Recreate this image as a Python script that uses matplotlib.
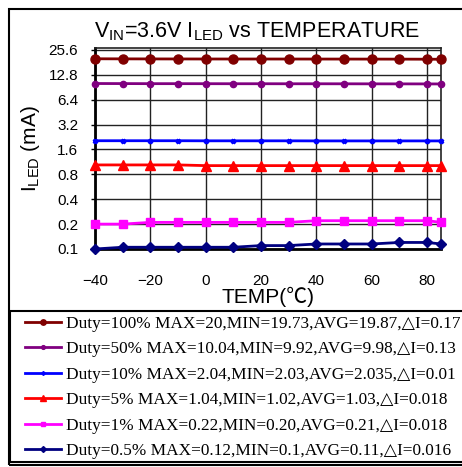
import matplotlib
matplotlib.use("Agg")
import matplotlib.pyplot as plt
from matplotlib.patches import Rectangle
from matplotlib.ticker import FixedLocator, FixedFormatter, NullLocator

temps = [-40, -30, -20, -10, 0, 10, 20, 30, 40, 50, 60, 70, 80, 85]
duty100 = [20.0, 19.95, 19.92, 19.9, 19.88, 19.87, 19.87, 19.86, 19.85, 19.84, 19.82, 19.8, 19.76, 19.73]
duty50 = [10.04, 10.02, 10.0, 10.0, 9.99, 9.98, 9.98, 9.97, 9.97, 9.96, 9.95, 9.94, 9.93, 9.92]
duty10 = [2.04, 2.04, 2.04, 2.04, 2.035, 2.035, 2.035, 2.035, 2.03, 2.03, 2.03, 2.03, 2.03, 2.03]
duty5 = [1.04, 1.04, 1.04, 1.04, 1.02, 1.02, 1.02, 1.02, 1.02, 1.02, 1.02, 1.02, 1.02, 1.02]
duty1 = [0.20, 0.20, 0.21, 0.21, 0.21, 0.21, 0.21, 0.21, 0.22, 0.22, 0.22, 0.22, 0.22, 0.21]
duty05 = [0.10, 0.105, 0.105, 0.105, 0.105, 0.105, 0.11, 0.11, 0.115, 0.115, 0.115, 0.12, 0.12, 0.115]

labels = [
    "Duty=100% MAX=20,MIN=19.73,AVG=19.87,\u25b3I=0.17",
    "Duty=50% MAX=10.04,MIN=9.92,AVG=9.98,\u25b3I=0.13",
    "Duty=10% MAX=2.04,MIN=2.03,AVG=2.035,\u25b3I=0.01",
    "Duty=5% MAX=1.04,MIN=1.02,AVG=1.03,\u25b3I=0.018",
    "Duty=1% MAX=0.22,MIN=0.20,AVG=0.21,\u25b3I=0.018",
    "Duty=0.5% MAX=0.12,MIN=0.1,AVG=0.11,\u25b3I=0.016",
]
yticks = [0.1, 0.2, 0.4, 0.8, 1.6, 3.2, 6.4, 12.8, 25.6]
ytick_labels = ["0.1", "0.2", "0.4", "0.8", "1.6", "3.2", "6.4", "12.8", "25.6"]
xticks = [-40, -20, 0, 20, 40, 60, 80]

W, H = 462, 467
fig = plt.figure(figsize=(W / 100, H / 100), dpi=100)
sans = ["Liberation Sans", "DejaVu Sans"]

ax = fig.add_axes([95 / W, 1 - 249 / H, (441 - 95) / W, (249 - 48) / H])

series = [
    (duty100, "#800000", "o", 6.5),
    (duty50, "#800080", "o", 4.5),
    (duty10, "#0000FF", "x", 3.5),
    (duty5, "#FF0000", "^", 6.5),
    (duty1, "#FF00FF", "s", 6.0),
    (duty05, "#000080", "D", 5.0),
]
handles = []
for (vals, col, mk, ms), lab in zip(series, labels):
    mew = 2 if mk == "x" else 1
    h, = ax.plot(temps, vals, color=col, marker=mk, markersize=ms, lw=2,
                 markeredgecolor=col, markerfacecolor=col, markeredgewidth=mew,
                 clip_on=False, zorder=3, label=lab)
    handles.append(h)

ax.set_yscale("log", base=2)
ax.set_ylim(0.1, 27)
ax.set_xlim(-40, 85)
ax.yaxis.set_major_locator(FixedLocator(yticks))
ax.yaxis.set_major_formatter(FixedFormatter(ytick_labels))
ax.yaxis.set_minor_locator(NullLocator())
ax.set_xticks(xticks)
ax.grid(True, color="#222222", lw=1)
ax.set_axisbelow(True)
for s in ["left", "bottom"]:
    ax.spines[s].set_linewidth(2)
for s in ["top", "right"]:
    ax.spines[s].set_linewidth(1.2)
    ax.spines[s].set_color("#222222")
ax.tick_params(axis="y", length=3, width=1, pad=9, labelsize=11)
ax.tick_params(axis="x", length=0, pad=18, labelsize=11)
for t in ax.get_xticklabels() + ax.get_yticklabels():
    t.set_fontfamily(sans)

ax.set_xlabel("TEMP(\u2103)", fontsize=15, family=["Liberation Sans", "Noto Sans CJK SC"], labelpad=-1)
ax.set_ylabel(r"$\mathregular{I_{LED}}$ (mA)", fontsize=15, family=sans, labelpad=5)

fig.text(257 / W, 1 - 37 / H, r"$\mathregular{V_{IN}}$=3.6V $\mathregular{I_{LED}}$ vs TEMPERATURE",
         ha="center", va="baseline", fontsize=15.5, family=sans)

# outer border and legend box
fig.patches.append(Rectangle((9 / W, 1 - 465 / H), 500 / W, (465 - 9) / H,
                             transform=fig.transFigure, fill=False, ec="black", lw=1.5))
fig.patches.append(Rectangle((10 / W, 1 - 462 / H), 500 / W, (462 - 311) / H,
                             transform=fig.transFigure, fill=False, ec="black", lw=1.5))

leg = fig.legend(handles=handles, loc="upper left", bbox_to_anchor=(22 / W, 1 - 313 / H),
                 frameon=False, prop={"family": ["Liberation Serif", "DejaVu Serif"], "size": 12.4},
                 handlelength=2.1, handletextpad=0.3, labelspacing=0.55, borderpad=0.15,
                 markerscale=0.6, borderaxespad=0)

fig.savefig("out.png", dpi=100)
